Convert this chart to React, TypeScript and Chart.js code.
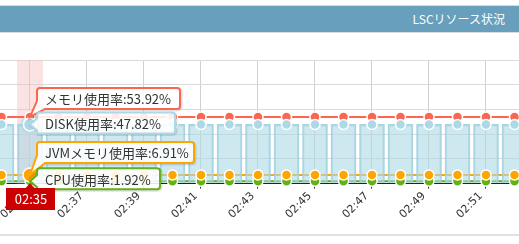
import React, { useEffect, useRef } from "react";
import { Chart, registerables } from "chart.js";

Chart.register(...registerables);

// ---- data ----
const times = [
  "02:34", "02:35", "02:36", "02:37", "02:38", "02:39", "02:40", "02:41", "02:42", "02:43",
  "02:44", "02:45", "02:46", "02:47", "02:48", "02:49", "02:50", "02:51", "02:52",
];
const memoryUsage = [
  53.92, 53.92, 53.92, 53.92, 53.92, 53.92, 53.92, 53.92, 53.92, 53.92,
  53.92, 53.92, 53.92, 53.92, 53.92, 53.92, 53.92, 53.92, 53.92,
];
const diskUsage = [
  47.82, 47.82, 47.82, 47.82, 47.82, 47.82, 47.82, 47.82, 47.82, 47.82,
  47.82, 47.82, 47.82, 47.82, 47.82, 47.82, 47.82, 47.82, 47.82,
];
const jvmUsage = [
  6.91, 6.91, 6.91, 6.91, 6.91, 6.91, 6.91, 6.91, 6.91, 6.91,
  6.91, 6.91, 6.91, 6.91, 6.91, 6.91, 6.91, 6.91, 6.91,
];
const cpuUsage = [
  1.92, 1.92, 1.92, 1.92, 1.92, 1.92, 1.92, 1.92, 1.92, 1.92,
  1.92, 1.92, 1.92, 1.92, 1.92, 1.92, 1.92, 1.92, 1.92,
];
const tickLabels = ["02:35", "02:37", "02:39", "02:41", "02:43", "02:45", "02:47", "02:49", "02:51"];
const seriesNames = ["メモリ使用率", "DISK使用率", "JVMメモリ使用率", "CPU使用率"];
const title = "LSCリソース状況";
const hoverIndex = 1;

// ---- styles ----
const RED = "#fa6650";
const BLUE = "#add8e6";
const ORANGE = "#ffa500";
const GREEN = "#62b01a";
const FONT_JP = '"Noto Sans CJK JP", "Noto Sans", sans-serif';

const pts = (arr: number[]) => arr.map((v, i) => ({ x: i, y: v }));
const radii = (normal: number, hover: number) => times.map((_, i) => (i === hoverIndex ? hover : normal));

function callout(
  ctx: CanvasRenderingContext2D,
  x: number, y: number, w: number, h: number,
  ax: number, ay: number
) {
  const r = 3;
  ctx.beginPath();
  ctx.moveTo(x + r, y);
  ctx.lineTo(x + w - r, y);
  ctx.arcTo(x + w, y, x + w, y + r, r);
  ctx.lineTo(x + w, y + h - r);
  ctx.arcTo(x + w, y + h, x + w - r, y + h, r);
  if (ay > y + h - 3) {
    ctx.lineTo(x + 8, y + h);
    ctx.lineTo(ax, ay);
    ctx.lineTo(x, y + h - 8);
  } else {
    ctx.lineTo(x, y + h);
    ctx.lineTo(x, ay + 6);
    ctx.lineTo(ax, ay);
    ctx.lineTo(x, ay - 6);
  }
  ctx.lineTo(x, y + r);
  ctx.arcTo(x, y, x + r, y, r);
  ctx.closePath();
}

const overlayPlugin = {
  id: "overlay",
  beforeDatasetsDraw(chart: any) {
    const { ctx, chartArea, scales } = chart;
    const px = scales.x.getPixelForValue(hoverIndex);
    ctx.save();
    ctx.fillStyle = "rgba(246, 190, 192, 0.45)";
    ctx.fillRect(px - 13, chartArea.top, 26, chartArea.bottom - chartArea.top);
    const dy = scales.y.getPixelForValue(diskUsage[hoverIndex]);
    ctx.beginPath();
    ctx.arc(px, dy, 10, 0, Math.PI * 2);
    ctx.fillStyle = "rgba(173, 216, 230, 0.5)";
    ctx.fill();
    ctx.restore();
  },
  afterDraw(chart: any) {
    const { ctx, scales } = chart;
    const ax = scales.x.getPixelForValue(hoverIndex);
    const vals = [memoryUsage, diskUsage, jvmUsage, cpuUsage];
    const colors = [RED, BLUE, ORANGE, GREEN];
    const widths = [143, 138, 157, 123];
    const offsets = [-29, -12, -33, -13];
    ctx.save();
    ctx.font = `13px ${FONT_JP}`;
    vals.forEach((arr, k) => {
      const v = arr[hoverIndex];
      const ay = scales.y.getPixelForValue(v);
      const bx = ax + 7;
      const by = ay + offsets[k];
      const bh = 21;
      ctx.save();
      ctx.translate(1, 1);
      callout(ctx, bx, by, widths[k], bh, ax, ay);
      ctx.strokeStyle = "rgba(0,0,0,0.12)";
      ctx.lineWidth = 3;
      ctx.stroke();
      ctx.restore();
      callout(ctx, bx, by, widths[k], bh, ax, ay);
      ctx.fillStyle = "rgba(255,255,255,0.88)";
      ctx.fill();
      ctx.strokeStyle = colors[k];
      ctx.lineWidth = 2;
      ctx.stroke();
      ctx.fillStyle = "#333";
      ctx.textBaseline = "middle";
      ctx.textAlign = "left";
      ctx.fillText(`${seriesNames[k]}:${v.toFixed(2)}%`, bx + 8, by + bh / 2 + 1);
    });
    const ly = scales.y.getPixelForValue(0);
    ctx.fillStyle = "#cc0000";
    ctx.fillRect(ax - 24, ly + 4.5, 49, 22);
    ctx.beginPath();
    ctx.moveTo(ax - 5, ly + 5);
    ctx.lineTo(ax, ly);
    ctx.lineTo(ax + 5, ly + 5);
    ctx.closePath();
    ctx.fill();
    ctx.fillStyle = "#ffffff";
    ctx.textAlign = "center";
    ctx.textBaseline = "middle";
    ctx.font = `13px ${FONT_JP}`;
    ctx.fillText(times[hoverIndex], ax + 1, ly + 16);
    ctx.restore();
  },
};

export default function App() {
  const ref = useRef<HTMLCanvasElement | null>(null);

  useEffect(() => {
    if (!ref.current) return;
    const markerBase = {
      type: "line" as const,
      showLine: false,
      pointBorderColor: "#ffffff",
      pointBorderWidth: 1.5,
      clip: false as any,
    };
    const chart = new Chart(ref.current, {
      type: "line",
      data: {
        datasets: [
          { type: "line", data: pts(memoryUsage), borderColor: RED, borderWidth: 2, pointRadius: 0, order: 10 },
          { type: "line", data: pts(jvmUsage), borderColor: ORANGE, borderWidth: 2, pointRadius: 0, order: 9 },
          { type: "line", data: pts(cpuUsage), borderColor: GREEN, borderWidth: 2, pointRadius: 0, order: 8 },
          {
            type: "bar",
            data: pts(diskUsage),
            backgroundColor: "rgba(173, 216, 230, 0.6)",
            borderColor: "rgba(160, 208, 224, 0.9)",
            borderWidth: 1.5,
            barThickness: 25,
            order: 7,
          },
          { ...markerBase, data: pts(memoryUsage), pointBackgroundColor: RED, pointRadius: radii(5, 5), order: 6 },
          { ...markerBase, data: pts(diskUsage), pointBackgroundColor: BLUE, pointRadius: radii(5, 6.5), order: 5 },
          { ...markerBase, data: pts(cpuUsage), pointBackgroundColor: GREEN, pointRadius: radii(5, 5), order: 4 },
          { ...markerBase, data: pts(jvmUsage), pointBackgroundColor: ORANGE, pointRadius: radii(5, 7), order: 3 },
        ] as any,
      },
      options: {
        animation: false,
        responsive: false,
        maintainAspectRatio: false,
        events: [],
        layout: { autoPadding: false, padding: { top: 60, left: 0, right: 0, bottom: 0 } },
        plugins: {
          legend: { display: false },
          tooltip: { enabled: false },
        },
        scales: {
          x: {
            type: "linear",
            offset: false,
            min: -0.0526,
            max: 18.158,
            afterBuildTicks: (s: any) => {
              s.ticks = tickLabels.map((t) => ({ value: times.indexOf(t) }));
            },
            afterFit: (s: any) => {
              s.height = 60.5;
              s.paddingLeft = 0;
              s.paddingRight = 0;
            },
            ticks: {
              autoSkip: false,
              minRotation: 45,
              maxRotation: 45,
              padding: 1,
              labelOffset: -5,
              color: "#333",
              font: { size: 11, family: '"DejaVu Sans", sans-serif' },
              callback: (v: any) => times[Math.round(Number(v))],
            },
            grid: { color: "#d0d0d0", tickColor: "#222", tickLength: 5, offset: false },
            border: { color: "#222", width: 1 },
          },
          y: {
            min: 0,
            max: 100,
            ticks: { display: false, stepSize: 20 },
            grid: { color: "#dadada", drawTicks: false },
            border: { display: false },
            afterFit: (s: any) => {
              s.width = 0;
              s.paddingTop = 0;
              s.paddingBottom = 0;
            },
          },
        } as any,
      },
      plugins: [overlayPlugin],
    });
    return () => chart.destroy();
  }, []);

  return (
    <div
      style={{
        position: "fixed",
        left: 0,
        top: 0,
        width: 519,
        height: 244,
        background: "#fff",
        overflow: "hidden",
      }}
    >
      <canvas ref={ref} width={519} height={244} style={{ position: "absolute", left: 0, top: 0, width: 519, height: 244 }} />
      <div
        style={{
          position: "absolute",
          left: 0,
          top: 5,
          width: 519,
          height: 26,
          background: "#689fbc",
          borderTop: "1px solid #dcdcdc",
          borderBottom: "1px solid #dcdcdc",
          color: "#fff",
          fontFamily: FONT_JP,
          fontSize: 12,
          lineHeight: "26px",
          textAlign: "right",
          boxSizing: "content-box",
        }}
      >
        <span style={{ marginRight: 14 }}>{title}</span>
      </div>
      <div style={{ position: "absolute", left: 0, top: 234, width: 519, height: 2, background: "#e2e2e2" }} />
    </div>
  );
}
